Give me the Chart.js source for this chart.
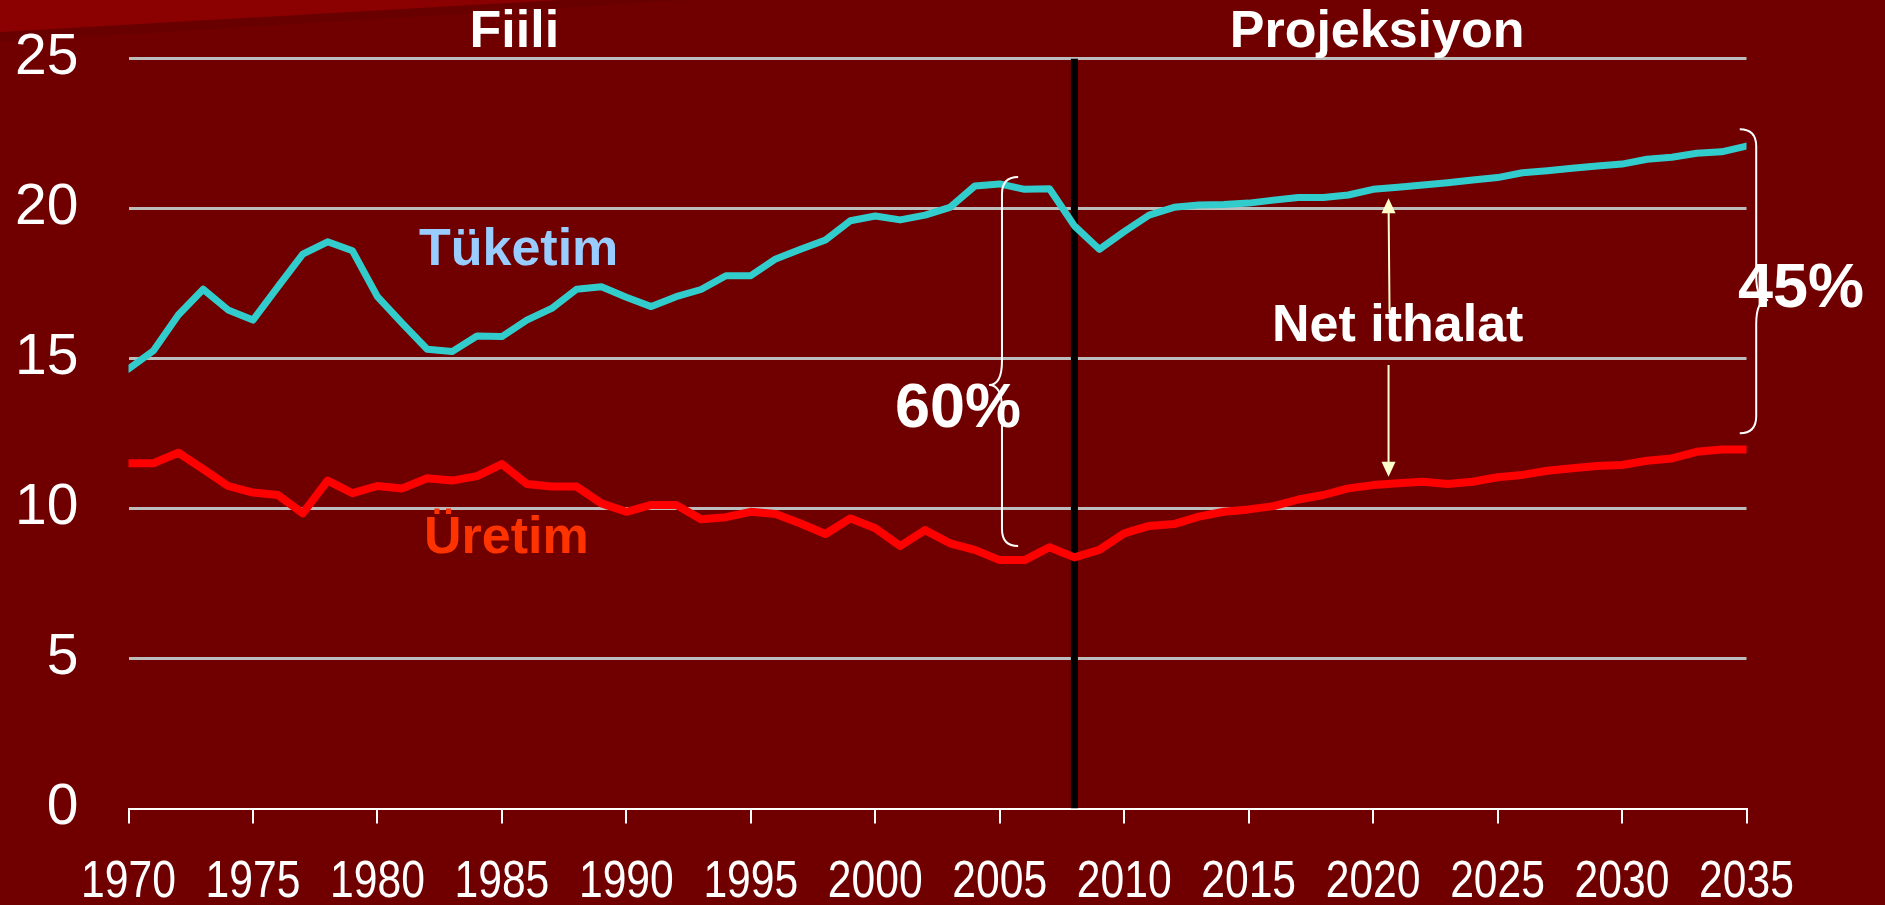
<!DOCTYPE html>
<html>
<head>
<meta charset="utf-8">
<script src="https://cdn.jsdelivr.net/npm/chart.js@4.4.1/dist/chart.umd.min.js"></script>
<style>
  html, body { margin: 0; padding: 0; background: #700000; overflow: hidden; }
  .slide { position: relative; width: 1885px; height: 905px; background: #700000; }
  .shade { position: absolute; left: 0; top: 0; width: 700px; height: 50px; background: #690000; clip-path: polygon(0 32px, 560px 0, 690px 0, 0 42px); }
  .corner { position: absolute; left: 0; top: 0; width: 600px; height: 40px; background: #8b0000; clip-path: polygon(0 0, 560px 0, 0 32px); }
  canvas { position: absolute; left: 0; top: 0; }
</style>
</head>
<body>
<div class="slide">
  <div class="shade"></div>
  <div class="corner"></div>
  <canvas id="oil" width="1885" height="905"></canvas>
</div>
<script>
const years = [
  1970, 1971, 1972, 1973, 1974, 1975, 1976, 1977, 1978, 1979,
  1980, 1981, 1982, 1983, 1984, 1985, 1986, 1987, 1988, 1989,
  1990, 1991, 1992, 1993, 1994, 1995, 1996, 1997, 1998, 1999,
  2000, 2001, 2002, 2003, 2004, 2005, 2006, 2007, 2008, 2009,
  2010, 2011, 2012, 2013, 2014, 2015, 2016, 2017, 2018, 2019,
  2020, 2021, 2022, 2023, 2024, 2025, 2026, 2027, 2028, 2029,
  2030, 2031, 2032, 2033, 2034, 2035
];

// Tüketim (consumption)
const tuketim = [
  14.65, 15.26, 16.45, 17.31, 16.62, 16.28, 17.39, 18.48, 18.89, 18.59,
  17.06, 16.17, 15.31, 15.23, 15.75, 15.73, 16.28, 16.67, 17.31, 17.39,
  17.04, 16.73, 17.06, 17.30, 17.76, 17.76, 18.32, 18.64, 18.95, 19.59,
  19.75, 19.62, 19.78, 20.04, 20.75, 20.82, 20.64, 20.66, 19.42, 18.64,
  19.23, 19.78, 20.04, 20.12, 20.13, 20.18, 20.28, 20.37, 20.37, 20.45,
  20.64, 20.71, 20.78, 20.86, 20.95, 21.03, 21.19, 21.26, 21.34, 21.42,
  21.48, 21.64, 21.71, 21.84, 21.89, 22.08
];

// Üretim (production)
const uretim = [
  11.51, 11.51, 11.86, 11.31, 10.75, 10.53, 10.45, 9.84, 10.93, 10.51,
  10.75, 10.67, 11.01, 10.93, 11.08, 11.48, 10.82, 10.73, 10.73, 10.17,
  9.89, 10.12, 10.12, 9.64, 9.71, 9.89, 9.82, 9.50, 9.15, 9.67,
  9.34, 8.75, 9.28, 8.84, 8.62, 8.28, 8.28, 8.71, 8.37, 8.62,
  9.17, 9.42, 9.48, 9.73, 9.89, 9.97, 10.08, 10.30, 10.45, 10.67,
  10.78, 10.84, 10.89, 10.82, 10.89, 11.04, 11.12, 11.26, 11.34, 11.42,
  11.45, 11.59, 11.67, 11.89, 11.97, 11.97
];

const xTicks = [1970, 1975, 1980, 1985, 1990, 1995, 2000, 2005, 2010, 2015, 2020, 2025, 2030, 2035];
const yTicks = [0, 5, 10, 15, 20, 25];

// last year of actual data, projection starts after it
const splitYear = 2008;

const SANS = "'Liberation Sans', Arial, sans-serif";

// texts placed in data units (year, value of the baseline)
const notes = [
  { text: "Fiili", x: 1985.5, y: 25.39, size: 52, color: "#ffffff", align: "center" },
  { text: "Projeksiyon", x: 2020.16, y: 25.38, size: 52, color: "#ffffff", align: "center" },
  { text: "Tüketim", x: 1981.67, y: 18.12, size: 52, color: "#99ccff", align: "left" },
  { text: "Üretim", x: 1981.87, y: 8.53, size: 52, color: "#ff3300", align: "left" },
  { text: "60%", x: 2000.79, y: 12.72, size: 63, color: "#ffffff", align: "left" },
  { text: "45%", x: 2034.66, y: 16.72, size: 63, color: "#ffffff", align: "left" },
  { text: "Net ithalat", x: 2015.94, y: 15.58, size: 52, color: "#ffffff", align: "left" }
];

function drawBrace(ctx, xLine, xEnd, xCusp, yTop, yBot, yMid) {
  const r = 17, m = 24;
  ctx.beginPath();
  ctx.moveTo(xEnd, yTop);
  ctx.quadraticCurveTo(xLine, yTop, xLine, yTop + r);
  ctx.lineTo(xLine, yMid - m);
  ctx.quadraticCurveTo(xLine, yMid, xCusp, yMid);
  ctx.quadraticCurveTo(xLine, yMid, xLine, yMid + m);
  ctx.lineTo(xLine, yBot - r);
  ctx.quadraticCurveTo(xLine, yBot, xEnd, yBot);
  ctx.stroke();
}

function drawArrowHead(ctx, x, yTip, dir) {
  // dir -1 points up, 1 points down
  ctx.beginPath();
  ctx.moveTo(x, yTip);
  ctx.lineTo(x - 7, yTip - dir * 15);
  ctx.lineTo(x + 7, yTip - dir * 15);
  ctx.closePath();
  ctx.fill();
}

// year labels come out narrow on the slide, so they are squeezed horizontally
const yearLabels = {
  id: "yearLabels",
  afterDraw(chart) {
    const { ctx, scales: { x, y } } = chart;
    const base = y.getPixelForValue(0) + 88;
    ctx.save();
    ctx.font = `52px ${SANS}`;
    ctx.fillStyle = "#ffffff";
    ctx.textAlign = "center";
    ctx.textBaseline = "alphabetic";
    x.ticks.forEach(t => {
      ctx.save();
      ctx.translate(x.getPixelForValue(t.value), base);
      ctx.scale(0.82, 1);
      ctx.fillText(String(t.value), 0, 0);
      ctx.restore();
    });
    ctx.restore();
  }
};

const overlay = {
  id: "overlay",
  afterDatasetsDraw(chart) {
    const { ctx, scales: { x, y } } = chart;
    const px = v => x.getPixelForValue(v);
    const py = v => y.getPixelForValue(v);
    ctx.save();

    ctx.strokeStyle = "#ffffff";
    ctx.lineWidth = 2;
    drawBrace(ctx, px(2005.09), px(2005.74), px(2004.57), py(21.05), py(8.75), py(14.12));
    drawBrace(ctx, px(2035.39), px(2034.73), px(2035.87), py(22.64), py(12.51), py(16.95));

    // net import arrow
    const ax = px(2020.62);
    ctx.strokeStyle = "#ffffcc";
    ctx.fillStyle = "#ffffcc";
    ctx.lineWidth = 2;
    ctx.beginPath();
    ctx.moveTo(ax, py(20.2));
    ctx.lineTo(ax + 1, py(16.52));
    ctx.moveTo(ax, py(14.78));
    ctx.lineTo(ax, py(11.2));
    ctx.stroke();
    drawArrowHead(ctx, ax, py(20.34), -1);
    drawArrowHead(ctx, ax, py(11.06), 1);

    ctx.textBaseline = "alphabetic";
    notes.forEach(n => {
      ctx.font = `bold ${n.size}px ${SANS}`;
      ctx.fillStyle = n.color;
      ctx.textAlign = n.align;
      ctx.fillText(n.text, px(n.x), py(n.y));
    });
    ctx.restore();
  }
};

new Chart(document.getElementById("oil"), {
  type: "line",
  data: {
    datasets: [
      {
        label: "Tüketim",
        data: years.map((yr, i) => ({ x: yr, y: tuketim[i] })),
        borderColor: "#33cccc",
        borderWidth: 7,
        pointRadius: 0,
        borderCapStyle: "round",
        borderJoinStyle: "round",
        tension: 0
      },
      {
        label: "Üretim",
        data: years.map((yr, i) => ({ x: yr, y: uretim[i] })),
        borderColor: "#ff0000",
        borderWidth: 8,
        pointRadius: 0,
        borderCapStyle: "round",
        borderJoinStyle: "round",
        tension: 0
      },
      {
        label: "split",
        data: [{ x: splitYear, y: yTicks[0] }, { x: splitYear, y: yTicks[yTicks.length - 1] }],
        borderColor: "#000000",
        borderWidth: 7,
        pointRadius: 0,
        borderCapStyle: "butt"
      }
    ]
  },
  options: {
    responsive: false,
    devicePixelRatio: 1,
    animation: false,
    layout: { padding: { top: 58.5, right: 138.5, bottom: 0, left: 0 } },
    plugins: {
      legend: { display: false },
      tooltip: { enabled: false }
    },
    scales: {
      x: {
        type: "linear",
        position: "bottom",
        min: xTicks[0],
        max: xTicks[xTicks.length - 1],
        afterBuildTicks: s => { s.ticks = xTicks.map(v => ({ value: v })); },
        afterFit: s => { s.height = 96.5; },
        ticks: { display: false },
        grid: {
          drawOnChartArea: false,
          drawTicks: true,
          tickLength: 15,
          color: "#ffffff",
          lineWidth: 2
        },
        border: { display: true, color: "#ffffff", width: 2 }
      },
      y: {
        min: yTicks[0],
        max: yTicks[yTicks.length - 1],
        afterBuildTicks: s => { s.ticks = yTicks.map(v => ({ value: v })); },
        afterFit: s => {
          s.width = 128.5;
          s.paddingTop = 0;
          s.paddingBottom = 0;
        },
        ticks: {
          color: "#ffffff",
          font: { family: SANS, size: 57 },
          padding: 50
        },
        grid: {
          drawTicks: false,
          color: c => (c.tick && c.tick.value === 0 ? "rgba(0,0,0,0)" : "#bcbcbc"),
          lineWidth: 3
        },
        border: { display: false }
      }
    }
  },
  plugins: [overlay, yearLabels]
});
</script>
</body>
</html>
